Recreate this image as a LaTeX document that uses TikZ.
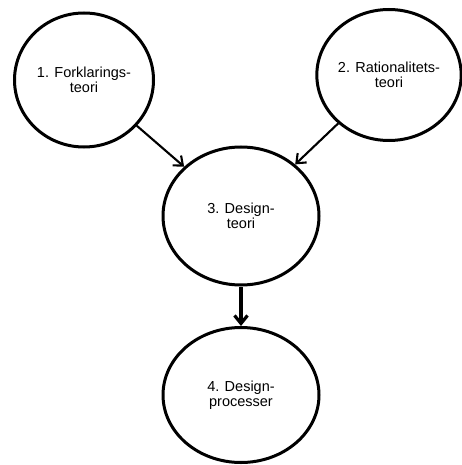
\documentclass[tikz,border=0pt]{standalone}
\usepackage{fontspec}
\setmainfont{Liberation Sans}
\usetikzlibrary{shapes.geometric,arrows.meta}
\tikzset{theory/.style={ellipse,draw,line width=3pt,inner sep=0pt,align=center,
    font=\fontsize{14.5}{15}\selectfont},
  link/.style={line width=2.1pt,-{Straight Barb[length=8pt,width=13pt]}}}

\begin{document}
\begin{tikzpicture}[x=1pt,y=-1pt]
    \useasboundingbox (0,0) rectangle (461,465);
    \node[theory,minimum width=139pt,minimum height=134pt] (forkl) at (84,80) {1. Forklarings-\\teori};
    \node[theory,minimum width=139pt,minimum height=131pt] (ratio) at (389,75) {2. Rationalitets-\\teori};
    \node[theory,minimum width=156pt,minimum height=138pt] (design) at (241,216) {3. Design-\\teori};
    \node[theory,minimum width=156pt,minimum height=135pt] (proc) at (241,395) {4. Design-\\processer};
    \draw[link] (forkl) -- (design);
    \draw[link] (ratio) -- (design);
    \draw[link,line width=3.2pt] (design) -- (proc);
\end{tikzpicture}
\end{document}
